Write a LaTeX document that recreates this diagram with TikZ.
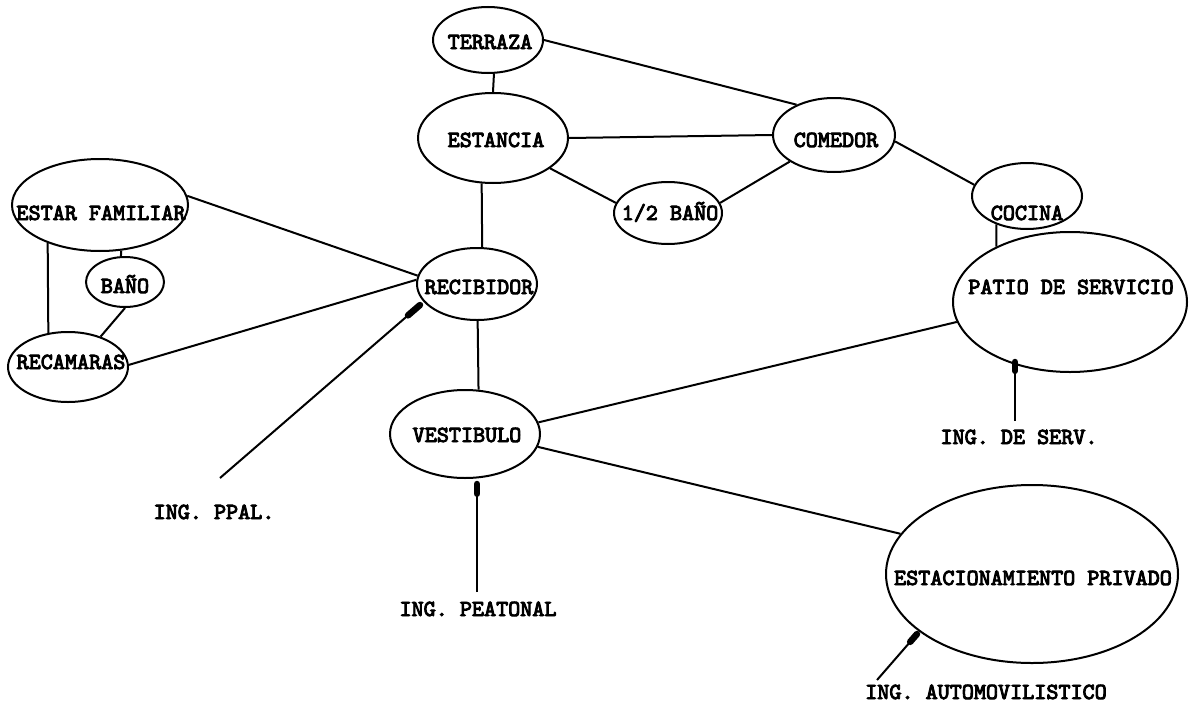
\documentclass[tikz,border=0pt]{standalone}
\usepackage{fontspec}
\newfontfamily\typew{lmmono10-regular.otf}[FakeBold=4]
\usetikzlibrary{shapes.geometric,calc}
\begin{document}
\begin{tikzpicture}[x=1pt,y=-1pt,
  room/.style={draw=black,line width=2pt,ellipse,inner sep=0pt},
  lbl/.style={font=\typew\fontsize{23}{25}\selectfont,inner sep=0pt,text height=14pt,text depth=0pt,anchor=center},
  link/.style={draw=black,line width=2pt},
  entry/.style={draw=black,line width=2pt},
  blob/.style={draw=black,line width=6.5pt,line cap=round}]
\useasboundingbox[fill=white] (0,0) rectangle (1190,709);
% rooms
\node[room,minimum width=110pt,minimum height=66pt] (terraza) at (488,40) {};
\node[room,minimum width=150pt,minimum height=90pt] (estancia) at (493,138) {};
\node[room,minimum width=122pt,minimum height=74pt] (comedor) at (834,135) {};
\node[room,minimum width=108pt,minimum height=62pt] (mbano) at (668,213) {};
\node[room,minimum width=110pt,minimum height=66pt] (cocina) at (1027,196) {};
\node[room,minimum width=234pt,minimum height=140pt] (patio) at (1070,302) {};
\node[room,minimum width=176pt,minimum height=92pt] (estar) at (100,205) {};
\node[room,minimum width=78pt,minimum height=50pt] (bano) at (125,282) {};
\node[room,minimum width=120pt,minimum height=70pt] (recamaras) at (68,367) {};
\node[room,minimum width=120pt,minimum height=72pt] (recibidor) at (477,284) {};
\node[room,minimum width=150pt,minimum height=88pt] (vestibulo) at (465,434) {};
\node[room,minimum width=292pt,minimum height=178pt] (estac) at (1032,574) {};
% labels
\node[lbl] (tterraza) at (490,42) {TERRAZA};
\node[lbl] (testancia) at (496,140) {ESTANCIA};
\node[lbl] (tcomedor) at (836,140) {COMEDOR};
\node[lbl] (tmbano) at (670,213) {1/2 BAÑO};
\node[lbl] (tcocina) at (1027,213) {COCINA};
\node[lbl] (tpatio) at (1071,287) {PATIO DE SERVICIO};
\node[lbl] (testar) at (101,213) {ESTAR FAMILIAR};
\node[lbl] (tbano) at (125,286) {BAÑO};
\node[lbl] (trecamaras) at (71,362) {RECAMARAS};
\node[lbl] (trecibidor) at (479,287) {RECIBIDOR};
\node[lbl] (tvestibulo) at (467,435) {VESTIBULO};
\node[lbl] (testac) at (1033,578) {ESTACIONAMIENTO PRIVADO};
\node[lbl] (ippal) at (214,512) {ING. PPAL.};
\node[lbl] (ipeat) at (478,609) {ING. PEATONAL};
\node[lbl] (iserv) at (1019,437) {ING. DE SERV.};
\node[lbl] (iauto) at (986,692) {ING. AUTOMOVILISTICO};
% connectors between rooms
\draw[link] (terraza.-80) -- (estancia.north);
\draw[link] (terraza.east) -- (comedor.141);
\draw[link] (estancia.east) -- (comedor.west);
\draw[link] (estancia.-28) -- (mbano.169);
\draw[link] (mbano.11) -- (comedor.211);
\draw[link] (comedor.-6) -- (cocina.168);
\draw[link] (cocina.223) -- (patio.143);
\draw[link] (estancia.256) -- (recibidor.82);
\draw[link] (estar.6) -- (recibidor.172);
\draw[link] (recamaras.2) -- (recibidor.176);
\draw[link] (estar.216) -- (recamaras.120);
\draw[link] (estar.-65) -- (bano.99);
\draw[link] (bano.south) -- (recamaras.43);
\draw[link] (recibidor.-89) -- (vestibulo.73);
\draw[link] (vestibulo.9) -- (patio.190);
\draw[link] (vestibulo.-10) -- (estac.163);
% entrances
\coordinate (ppalA) at (220,478);
\coordinate (ppalB) at (420,305);
\coordinate (peatA) at (477,592);
\coordinate (peatB) at (477,484);
\coordinate (servA) at (1015,421);
\coordinate (servB) at (1015,362);
\coordinate (autoA) at (877,680);
\coordinate (autoB) at (917,634);
\draw[entry] (ppalA) -- (ppalB);
\draw[blob] ($(ppalB)!0.06!(ppalA)$) -- (ppalB);
\draw[entry] (peatA) -- (peatB);
\draw[blob] ($(peatB)!0.09!(peatA)$) -- (peatB);
\draw[entry] (servA) -- (servB);
\draw[blob] ($(servB)!0.15!(servA)$) -- (servB);
\draw[entry] (autoA) -- (autoB);
\draw[blob] ($(autoB)!0.17!(autoA)$) -- (autoB);
\end{tikzpicture}
\end{document}
